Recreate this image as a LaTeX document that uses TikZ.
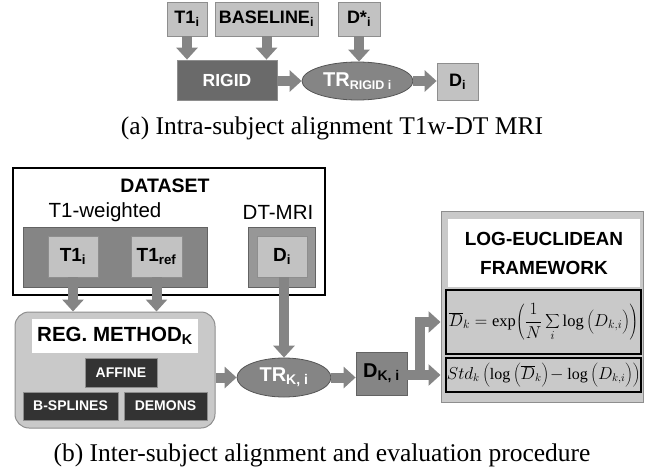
\documentclass[tikz,border=0pt]{standalone}
\usepackage{fontspec}
\setmainfont{Liberation Serif}
\setsansfont{Liberation Sans}
\usetikzlibrary{arrows.meta,shapes.geometric,calc}

\definecolor{arrowgray}{HTML}{858585}
\definecolor{boxlight}{HTML}{C2C2C2}
\definecolor{boxmid}{HTML}{858585}
\definecolor{boxdark}{HTML}{6A6A6A}
\definecolor{boxblack}{HTML}{333333}
\definecolor{framegray}{HTML}{C9C9C9}
\definecolor{edgegray}{HTML}{8E8E8E}

\newcommand\fsz[1]{\fontsize{#1}{#1}\selectfont}
\newcommand\sbs[1]{\textsubscript{#1}}
% invisible rule that makes \left/\right delimiters taller
\newcommand\tallstrut{\rule[-6pt]{0pt}{21pt}}

\tikzset{
  lightbox/.style={draw=edgegray, line width=0.8pt, fill=boxlight, inner sep=0pt,
    font=\sffamily\bfseries\fsz{18}},
  darkbox/.style={draw=edgegray, line width=0.8pt, fill=boxdark, inner sep=0pt,
    text=white, font=\sffamily\bfseries\fsz{17.5}},
  midbox/.style={draw=edgegray!70!black, line width=0.8pt, fill=boxmid, inner sep=0pt},
  blackbox/.style={draw=edgegray, line width=0.8pt, fill=boxblack, inner sep=0pt,
    text=white, font=\sffamily\bfseries\fsz{14}},
  whitebox/.style={draw=none, fill=white, inner sep=0pt, font=\sffamily\bfseries\fsz{19}},
  oval/.style={ellipse, draw=edgegray!60!black, line width=0.8pt, fill=boxmid, inner sep=0pt,
    text=white, font=\sffamily\bfseries\fsz{20}},
  formbox/.style={draw=black, line width=2pt, fill=framegray, inner sep=0pt},
  arr/.style={draw=arrowgray, line width=10pt, line join=miter,
    -{Triangle[length=12pt,width=21pt]}},
  caption/.style={font=\rmfamily\fsz{25.5}},
}

\begin{document}
\begin{tikzpicture}[x=1pt,y=-1pt]
\useasboundingbox (0,0) rectangle (645,474);

% ---------- (a) intra-subject alignment ----------
\node[lightbox, minimum width=40pt, minimum height=34pt] (t1a) at (187,19) {T1\sbs{i}};
\node[lightbox, minimum width=103pt, minimum height=34pt] (base) at (266.5,19) {BASELINE\sbs{i}};
\node[lightbox, minimum width=42pt, minimum height=34pt] (dstar) at (359,19) {D*\sbs{i}};
\node[darkbox, minimum width=100pt, minimum height=40pt] (rigid) at (227,80) {RIGID};
\node[oval, minimum width=111pt, minimum height=38pt] (trr) at (357.5,81)
  {TR\textsubscript{\fsz{12.5}RIGID i}};
\node[lightbox, minimum width=41pt, minimum height=37pt] (dtop) at (457.5,81.5) {D\sbs{i}};

\draw[arr] (t1a.south) -- (t1a.south |- rigid.north);
\draw[arr] (base.south) -- (base.south |- rigid.north);
\draw[arr] (dstar.south) -- (dstar.south |- trr.north);
\draw[arr] (rigid.east |- trr.west) -- (trr.west);
\draw[arr] (trr.east) -- (dtop.west |- trr.east);

\node[caption] (capa) at (332,128) {(a) Intra-subject alignment T1w-DT MRI};

% ---------- (b) inter-subject alignment ----------
% dataset frame
\node[draw=black, line width=2pt, fill=white, minimum width=312pt, minimum height=127pt,
  inner sep=0pt] (dataset) at (169,231.5) {};
\node[font=\sffamily\bfseries\fsz{19.5}] (dstitle) at (165,186) {DATASET};
\node[font=\sffamily\fsz{20.5}] (t1w) at (105,212) {T1-weighted};
\node[font=\sffamily\fsz{20.5}] (dtmri) at (278,212) {DT-MRI};

\node[midbox, minimum width=184pt, minimum height=60pt] (t1grp) at (115,257) {};
\node[midbox, fill=boxmid!85!white, minimum width=67pt, minimum height=60pt] (dtgrp) at (281.5,257) {};
\node[lightbox, font=\sffamily\bfseries\fsz{19}, minimum width=50pt, minimum height=41pt] (t1i) at (73,256.5) {T1\sbs{i}};
\node[lightbox, font=\sffamily\bfseries\fsz{19}, minimum width=51pt, minimum height=41pt] (t1ref) at (156.5,256.5) {T1\sbs{ref}};
\node[lightbox, font=\sffamily\bfseries\fsz{19}, minimum width=50pt, minimum height=41pt] (di) at (282,256.5) {D\sbs{i}};

% registration method
\node[draw=edgegray, line width=1pt, fill=framegray, rounded corners=14pt,
  minimum width=200pt, minimum height=116pt] (reg) at (115,370) {};
\node[whitebox, font=\sffamily\bfseries\fsz{20.5}, minimum width=166pt, minimum height=34pt] (reglbl) at (115,336)
  {REG. METHOD\sbs{K}};
\node[blackbox, minimum width=72pt, minimum height=29pt] (affine) at (121,372.5) {AFFINE};
\node[blackbox, minimum width=95pt, minimum height=28pt] (bspl) at (70.5,406) {B-SPLINES};
\node[blackbox, minimum width=83pt, minimum height=28pt] (demons) at (165.5,406) {DEMONS};

\node[oval, minimum width=94pt, minimum height=39pt] (trk) at (284,377.5)
  {TR\textsubscript{\fsz{14}K, i}};
\node[midbox, font=\sffamily\bfseries\fsz{20}, minimum width=51pt, minimum height=43pt] (dk) at (381.5,373.5)
  {D\textsubscript{\fsz{14}K, i}};

% log-euclidean framework
\node[draw=edgegray, line width=1pt, fill=framegray, minimum width=202pt, minimum height=191pt,
  inner sep=0pt] (logbox) at (542,306.5) {};
\node[whitebox, minimum width=192pt, minimum height=68pt, align=center] (loglbl) at (544,253)
  {LOG-EUCLIDEAN\\[10pt]FRAMEWORK};
\node[formbox, minimum width=195pt, minimum height=64pt] (f1) at (543.5,322)
  {\fsz{16.5}$\displaystyle\overline{D}_k = \exp\!\left(\frac{1}{N}\sum_i \log\left(D_{k,i}\tallstrut\right)\right)$};
\node[formbox, minimum width=195pt, minimum height=34pt] (f2) at (543.5,375)
  {\fsz{16}$Std_k\left(\log\left(\overline{D}_k\tallstrut\right)\!-\log\left(D_{k,i}\tallstrut\right)\right)$};

% connectors
\draw[arr] (t1i.south) -- (t1i.south |- reg.north);
\draw[arr] (t1ref.south) -- (t1ref.south |- reg.north);
\draw[arr] (trk.north |- di.south) -- (trk.north);
\draw[arr] (reg.east |- trk.west) -- (trk.west);
\draw[arr] (trk.east) -- (dk.west |- trk.east);
\draw[arr] (dk.east |- f2.west) -- (logbox.west |- f2.west);
\draw[arr] (dk.east |- f2.west) -- ++(13,0) |- (logbox.west |- f1.west);

\node[caption] (capb) at (322,455) {(b) Inter-subject alignment and evaluation procedure};
\end{tikzpicture}
\end{document}
